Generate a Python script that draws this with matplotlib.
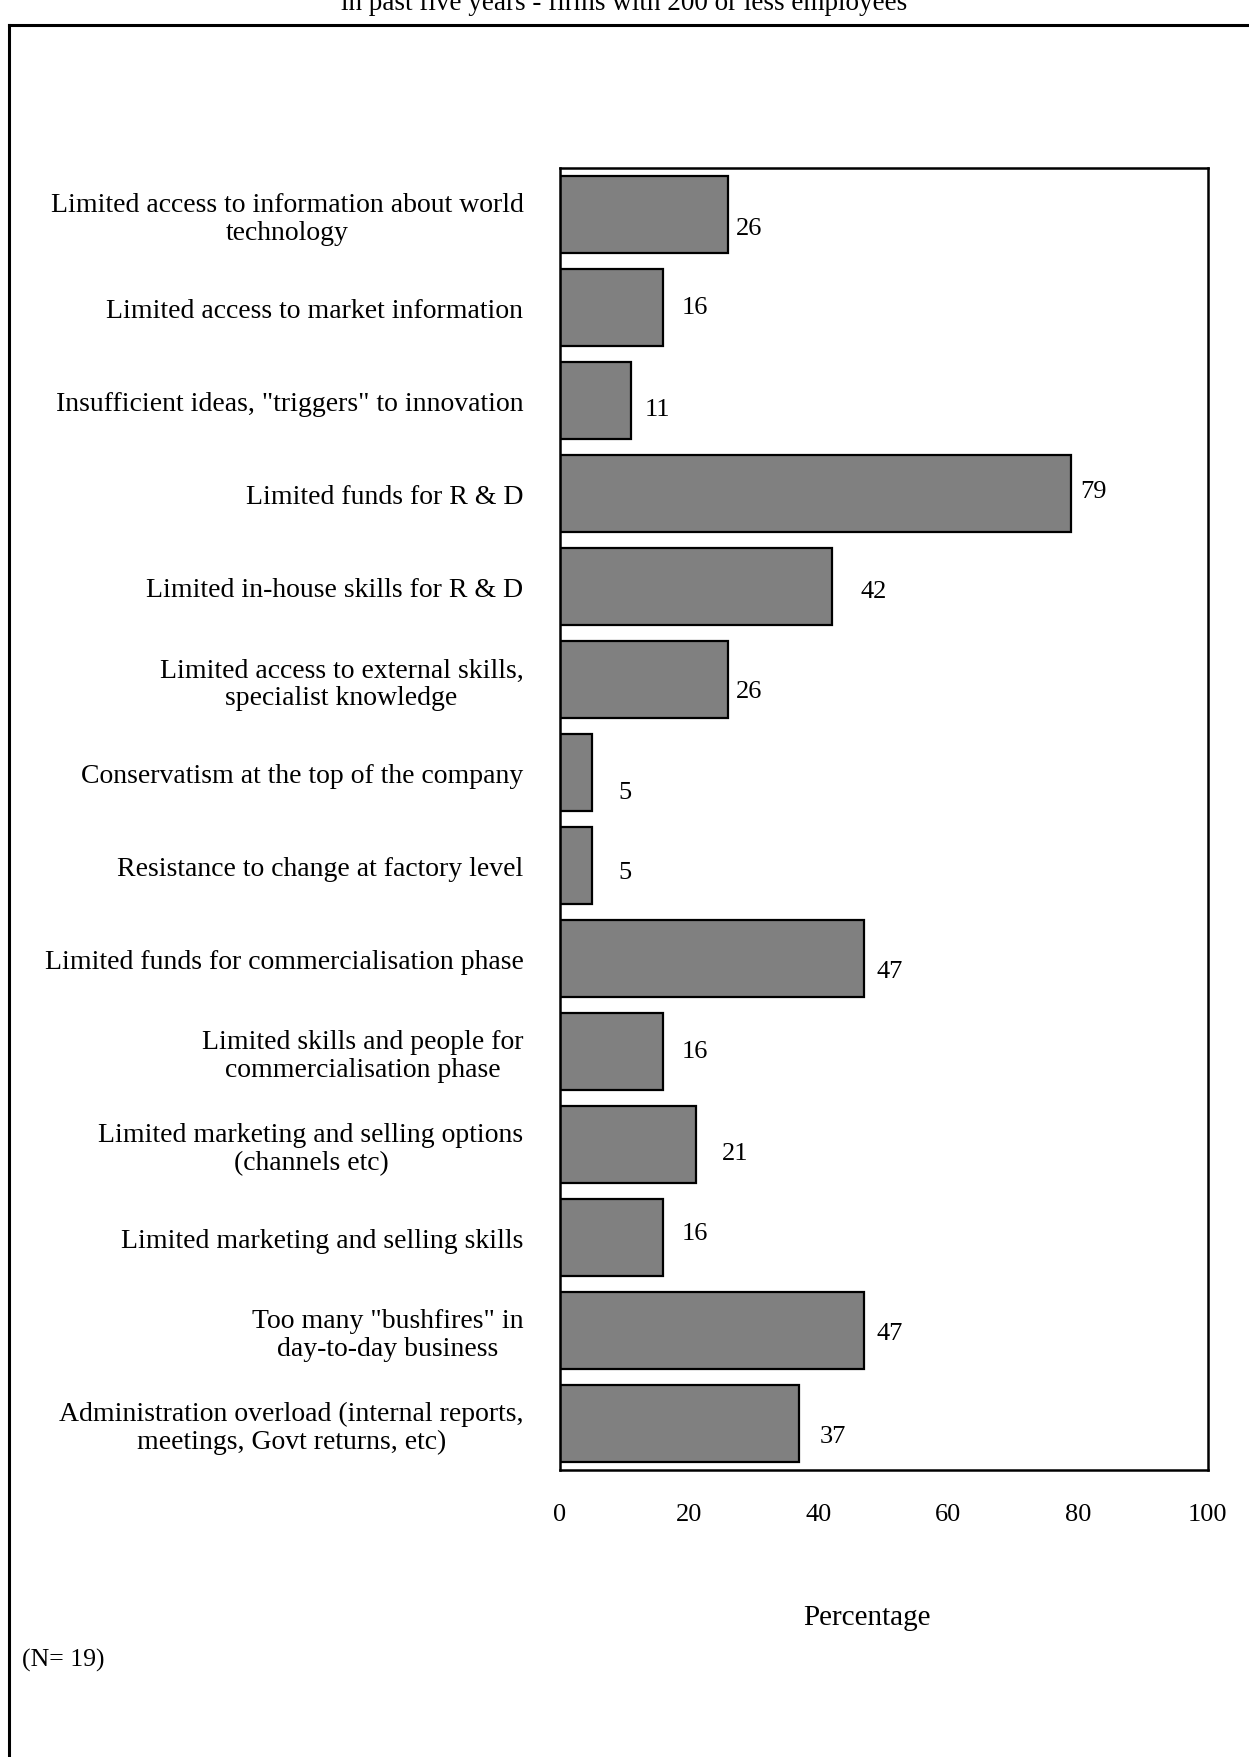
import numpy as np
import matplotlib
matplotlib.use("Agg")
import matplotlib.pyplot as plt
from matplotlib.lines import Line2D

# data
categories = [
    "Limited access to information about world\ntechnology",
    "Limited access to market information",
    "Insufficient ideas, \"triggers\" to innovation",
    "Limited funds for R & D",
    "Limited in-house skills for R & D",
    "Limited access to external skills,\nspecialist knowledge",
    "Conservatism at the top of the company",
    "Resistance to change at factory level",
    "Limited funds for commercialisation phase",
    "Limited skills and people for\ncommercialisation phase",
    "Limited marketing and selling options\n(channels etc)",
    "Limited marketing and selling skills",
    "Too many \"bushfires\" in\nday-to-day business",
    "Administration overload (internal reports,\nmeetings, Govt returns, etc)",
]
values = [26, 16, 11, 79, 42, 26, 5, 5, 47, 16, 21, 16, 47, 37]
xticks = [0, 20, 40, 60, 80, 100]
title = "in past five years - firms with 200 or less employees"
n_note = "(N= 19)"

# label nudges (points), mimicking the original label placement
label_dx = [6, 13, 10, 6, 21, 6, 19, 19, 9, 13, 19, 13, 9, 15]
label_dy = [-10, 0, -6, 2, -3, -8, -14, -5, -9, 0, -6, 3, -2, -9]

plt.rcParams['font.family'] = ['Liberation Serif', 'DejaVu Serif']
fs = 20

fig = plt.figure(figsize=(12.49, 17.58), dpi=100)
ax = fig.add_axes([0.448, 0.1633, 0.5188, 0.7406])

y = np.arange(len(categories))
ax.barh(y, values, height=0.82, color='#808080', edgecolor='black', linewidth=1.6)
ax.set_xlim(0, 100)
ax.set_ylim(len(categories) - 0.5, -0.5)

for i, v in enumerate(values):
    ax.annotate(str(v), (v, i), xytext=(label_dx[i], label_dy[i]),
                textcoords='offset points', ha='left', va='center', fontsize=19)

ax.set_yticks(y)
ax.set_yticklabels(categories, fontsize=fs, multialignment='center', linespacing=1.12)
ax.set_xticks(xticks)
ax.set_xticklabels([str(t) for t in xticks], fontsize=19)
ax.tick_params(axis='y', length=0, pad=26)
ax.tick_params(axis='x', length=0, pad=24)
for s in ax.spines.values():
    s.set_linewidth(1.8)

fig.text(0.694, 1 - 1618 / 1758, "Percentage", ha='center', va='center', fontsize=21)
fig.text(0.018, 1 - 1660 / 1758, n_note, ha='left', va='center', fontsize=18.5)
# title is cut off at the top edge in the original
fig.text(0.5, 1 - 3 / 1758, title, ha='center', va='center', fontsize=19.5)

# outer frame (left and top edges only visible)
fig.add_artist(Line2D([0.007, 0.007], [0, 1 - 26 / 1758], transform=fig.transFigure,
                      color='black', linewidth=2.2))
fig.add_artist(Line2D([0.007, 1], [1 - 26 / 1758, 1 - 26 / 1758], transform=fig.transFigure,
                      color='black', linewidth=2.2))

fig.savefig("out.png", dpi=100)
